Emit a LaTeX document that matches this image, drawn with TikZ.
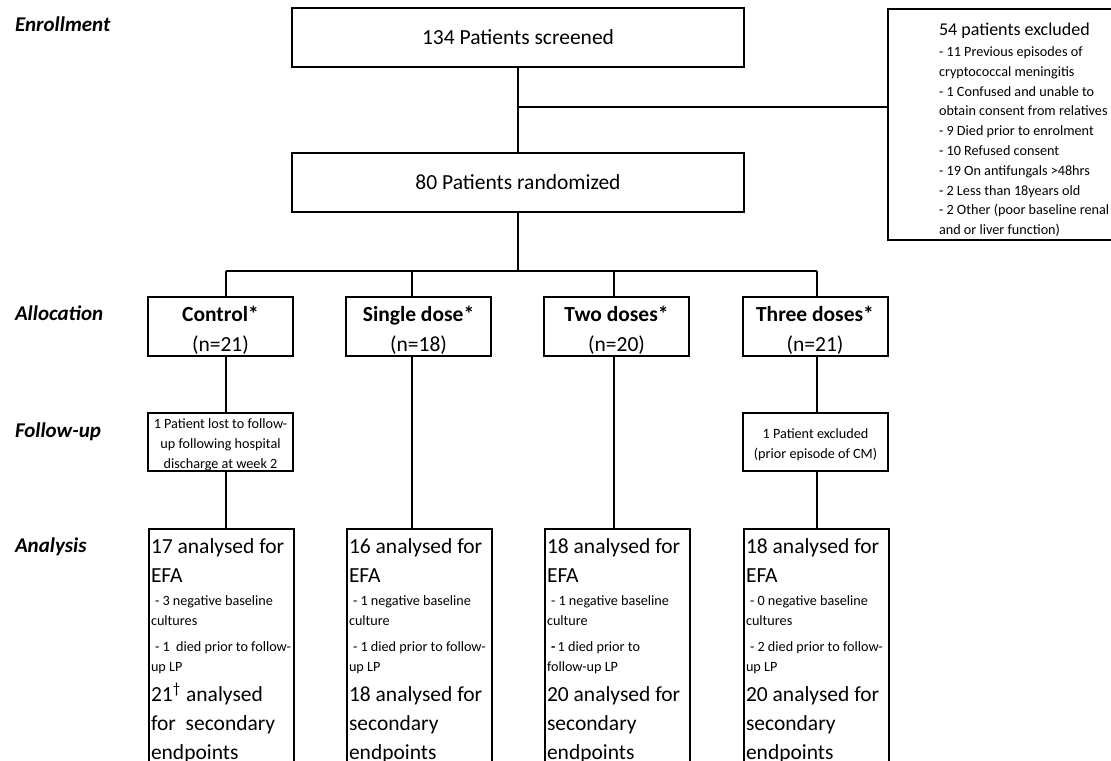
\documentclass[tikz,border=0pt]{standalone}
\usepackage{fontspec}
\setmainfont{Carlito}
\newcommand{\boxfont}{\fontsize{10.75}{14.5}\selectfont}
\newcommand{\notefont}{\fontsize{7.1}{10}\selectfont}
\newcommand{\topgap}[1]{\rule{0pt}{#1}}
\newcommand{\efatext}[7]{\parfillskip=0pt plus 1fil
  #1 analysed for\par EFA\par
  \notefont\vspace{1.5pt}\mbox{#2}\par \mbox{#3}\par\vspace{3pt}\mbox{#4}\par \mbox{#5}\par
  \boxfont\vspace{0.5pt}#6\par #7\par endpoints}
\tikzset{
  box/.style={draw, line width=1pt, align=center, font=\boxfont,
              minimum width=226pt, minimum height=29.5pt},
  alloc/.style={box, minimum width=72.5pt, inner sep=0pt},
  fubox/.style={draw, line width=1pt, align=center, font=\notefont,
                minimum width=72.5pt, minimum height=29pt, inner sep=0pt},
  anbox/.style={draw, line width=1pt, anchor=north west, align=flush left,
                font=\boxfont, text width=70.5pt, inner xsep=1pt,
                inner ysep=0pt, text height=12.25pt, text depth=130pt},
  stage/.style={anchor=base west, inner sep=0pt,
                font=\fontsize{10.5}{12}\selectfont\bfseries\itshape}
}
\begin{document}
\begin{tikzpicture}[x=0.5pt, y=-0.5pt, line width=1pt]
\useasboundingbox (0,0) rectangle (1111,760);
\clip (0,0) rectangle (1111,760);
\node[stage] (enrol) at (14,32) {Enrollment};
\node[stage] (alloclbl) at (14,320) {Allocation};
\node[stage] (fulbl) at (14,437) {Follow-up};
\node[stage] (anlbl) at (14,552) {Analysis};

\node[box] (screened) at (518,37.5) {134 Patients screened};
\node[box] (randomized) at (518,182) {80 Patients randomized};
\node[draw, line width=1pt, anchor=north west, align=flush left, text width=100pt,
      inner xsep=25.5pt, inner ysep=0pt, text height=13pt, text depth=102.5pt,
      font=\notefont] (excluded) at (887,8) {\parfillskip=0pt plus 1fil
  {\fontsize{9}{11}\selectfont 54 patients excluded}\par
  \fontsize{7.1}{9.9}\selectfont\vspace{0.85pt}- 11 Previous episodes of\par
  cryptococcal meningitis\par
  - 1 Confused and unable to\par
  \mbox{obtain consent from relatives}\par
  - 9 Died prior to enrolment\par
  - 10 Refused consent\par
  - 19 On antifungals >48hrs\par
  - 2 Less than 18years old\par
  \mbox{- 2 Other (poor baseline renal}\par
  and or liver function)};
\coordinate (split) at (517,107);
\draw (screened) -- (randomized);
\draw (split) -- (split -| excluded.west);

\coordinate (busmid) at (518,271);
\foreach \n/\x in {ctrl/226,single/412,two/614,three/817}
    \coordinate (b\n) at (\x,271);
\draw (randomized) -- (busmid);
\draw (bctrl) -- (bthree);

\node[alloc] (ctrl) at (220.5,326.5) {\topgap{11pt}\textbf{Control*}\\[0.5pt](n=21)};
\node[alloc] (single) at (418.5,326.5) {\topgap{11pt}\textbf{Single dose*}\\[0.5pt](n=18)};
\node[alloc] (two) at (616.5,326.5) {\topgap{11pt}\textbf{Two doses*}\\[0.5pt](n=20)};
\node[alloc] (three) at (815,326.5) {\topgap{11pt}\textbf{Three doses*}\\[0.5pt](n=21)};
\foreach \n in {ctrl,single,two,three}
    \draw (b\n) -- (b\n |- \n.north);

\node[fubox] (ctrlfu) at (220.5,442) {\topgap{7.5pt}1 Patient lost to follow-\\up following hospital\\discharge at week 2};
\node[fubox] (threefu) at (815.5,442) {\topgap{7.5pt}1 Patient excluded\\(prior episode of CM)};

\node[anbox] (ctrlan) at (148,528) {\efatext{17}{\hspace*{2pt}- 3 negative baseline}{cultures}{\hspace*{2pt}- 1~~died prior to follow-}{up LP}{21\textsuperscript{†} analysed}{for~~secondary}};
\node[anbox] (singlean) at (346,528) {\efatext{16}{\hspace*{2pt}- 1 negative baseline}{culture}{\hspace*{2pt}- 1 died prior to follow-}{up LP}{18 analysed for}{secondary}};
\node[anbox] (twoan) at (544,528) {\efatext{18}{\hspace*{2pt}- 1 negative baseline}{culture}{\hspace*{2pt}\textbf{-}\,1 died prior to}{follow-up LP}{20 analysed for}{secondary}};
\node[anbox] (threean) at (743,528) {\efatext{18}{\hspace*{2pt}- 0 negative baseline}{cultures}{\hspace*{2pt}- 2 died prior to follow-}{up LP}{20 analysed for}{secondary}};

\draw (bctrl |- ctrl.south) -- (bctrl |- ctrlfu.north);
\draw (bctrl |- ctrlfu.south) -- (bctrl |- ctrlan.north);
\draw (bsingle |- single.south) -- (bsingle |- singlean.north);
\draw (btwo |- two.south) -- (btwo |- twoan.north);
\draw (bthree |- three.south) -- (bthree |- threefu.north);
\draw (bthree |- threefu.south) -- (bthree |- threean.north);
\end{tikzpicture}
\end{document}
